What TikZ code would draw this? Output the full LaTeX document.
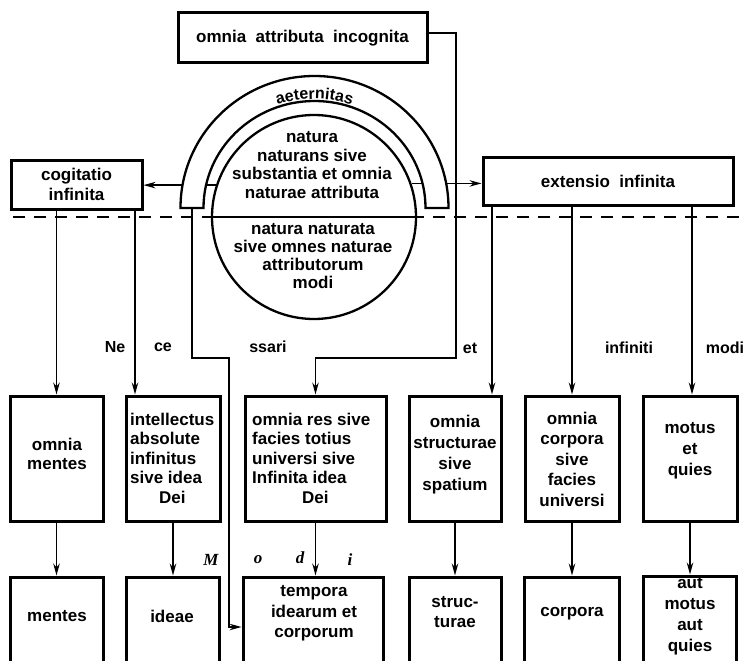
\documentclass[tikz,border=0pt]{standalone}
\usepackage{fontspec}
\setmainfont{Liberation Sans}
\newfontfamily\serifbi{Liberation Serif}
\usetikzlibrary{arrows.meta,decorations.text}
\begin{document}
\begin{tikzpicture}[x=1pt,y=-1pt,
  fs/.style={font=\bfseries\fontsize{17}{#1}\selectfont, inner sep=0pt, align=center},
  fs/.default=19.5,
  box/.style={draw, line width=3pt, inner sep=0pt},
  arr/.style={-{Stealth[length=12pt,width=6.5pt]}, line width=1.5pt},
  thinarr/.style={-{Stealth[length=12pt,width=6.5pt]}, line width=1.2pt},
  lbl/.style={font=\bfseries\fontsize{16}{16}\selectfont, inner sep=0pt},
  modl/.style={font=\serifbi\bfseries\itshape\fontsize{17}{17}\selectfont, inner sep=0pt},
]
\useasboundingbox (0,0) rectangle (745,661);
\clip (0,0) rectangle (745,661);

% dashed separation line
\coordinate (dashL) at (13,217);
\coordinate (dashR) at (745,217);
\draw[line width=1.5pt, dash pattern=on 12pt off 9pt] (dashL) -- (dashR);

% top box
\node[box, fs, minimum width=249pt, minimum height=50pt] (top) at (302.5,38) {omnia\ \ attributa\ \ incognita};

% side boxes
\node[box, fs, minimum width=131pt, minimum height=49pt] (cog) at (76.5,184.5) {cogitatio\\infinita};
\node[box, fs, minimum width=250pt, minimum height=48pt] (ext) at (608,181) {extensio\ \ infinita};

% circle natura
\node[circle, draw, line width=2.3pt, minimum size=204pt, inner sep=0pt] (nat) at (314,217) {};
\draw[line width=1.8pt] (nat.west) -- (nat.east);
\node[fs=18.7] (nat1) at (312,165) {natura\\naturans sive\\substantia et omnia\\naturae attributa};
\node[fs=18.2] (nat2) at (313,256) {natura naturata\\sive omnes naturae\\attributorum\\modi};

% arrows from circle to side boxes
\draw[arr] (nat.162.3) -- (nat.162.3 -| cog.east);
\draw[arr] (nat.19.5) -- (nat.19.5 -| ext.west);

% arch aeternitas
\filldraw[fill=white, line width=2.3pt] (180.5,208) arc[start angle=180,end angle=360,x radius=134,y radius=132]
  -- (425.5,208) arc[start angle=360,end angle=180,x radius=111,y radius=107] -- cycle;
\path[decorate, decoration={text along path, text align=center,
  text={|\bfseries\fontsize{16}{16}\selectfont|aeternitas}}]
  (201.5,209) arc[start angle=180,end angle=360,x radius=113,y radius=110];

% row 1 boxes
\node[box, minimum width=93pt, minimum height=125pt] (b1) at (56.5,458.5) {};
\node[box, minimum width=94pt, minimum height=125pt] (b2) at (173,458.5) {};
\node[box, minimum width=141pt, minimum height=125pt] (b3) at (315.5,458.5) {};
\node[box, minimum width=92pt, minimum height=125pt] (b4) at (455,458.5) {};
\node[box, minimum width=94pt, minimum height=125pt] (b5) at (572,458.5) {};
\node[box, minimum width=94pt, minimum height=125pt] (b6) at (690,458.5) {};

\node[fs=19] (tb1) at (57,453.5) {omnia\\mentes};
\node[fs=19.5, align=left, anchor=west] (tb2) at (130,458) {intellectus\\absolute\\infinitus\\sive idea\\\hspace*{29pt}Dei};
\node[fs=19.5, align=left, anchor=west] (tb3) at (252,458) {omnia res sive\\facies totius\\universi sive\\Infinita idea\\\hspace*{50pt}Dei};
\node[fs=21] (tb4) at (455,454.5) {omnia\\structurae\\sive\\spatium};
\node[fs=20.5] (tb5) at (572,459) {omnia\\corpora\\sive\\facies\\universi};
\node[fs=21] (tb6) at (690,451) {motus\\et\\quies};

% row 2 boxes (open at the bottom edge)
\node[box, minimum width=93pt, minimum height=123pt] (c1) at (56.5,638.5) {};
\node[box, minimum width=93pt, minimum height=123pt] (c2) at (172.5,638.5) {};
\node[box, minimum width=140pt, minimum height=123pt] (c3) at (313,638.5) {};
\node[box, minimum width=92pt, minimum height=123pt] (c4) at (455,638.5) {};
\node[box, minimum width=95pt, minimum height=123pt] (c5) at (571.5,638.5) {};
\node[box, minimum width=93pt, minimum height=125pt] (c6) at (689.5,638.5) {};

\node[fs] (tc1) at (57,616) {mentes};
\node[fs] (tc2) at (172,616) {ideae};
\node[fs=20.5] (tc3) at (314,613.5) {tempora\\idearum et\\corporum};
\node[fs=20] (tc4) at (455,612) {struc-\\turae};
\node[fs] (tc5) at (572,614) {corpora};
\node[fs=21] (tc6) at (690,616.5) {aut\\motus\\aut\\quies};

% connectors from the side boxes
\draw[arr] (b1.north |- cog.south) -- (b1.north);
\draw[arr] ([xshift=-38pt]b2.north |- cog.south) -- ([xshift=-38pt]b2.north);
\draw[arr] ([xshift=37pt]b4.north |- ext.south) -- ([xshift=37pt]b4.north);
\draw[arr] (b5.north |- ext.south) -- (b5.north);
\draw[arr] ([xshift=2pt]b6.north |- ext.south) -- ([xshift=2pt]b6.north);

% row 1 -> row 2
\draw[arr] (b1.south) -- (b1.south |- c1.north);
\draw[arr] (b2.south) -- (b2.south |- c2.north);
\draw[arr] (b3.south) -- (b3.south |- c3.north);
\draw[arr] (b4.south) -- (b4.south |- c4.north);
\draw[arr] (b5.south) -- (b5.south |- c5.north);
\draw[arr] (b6.south) -- (b6.south |- c6.north);

% long connectors
\coordinate (kR) at (456,358);
\draw[thinarr] ([yshift=5pt]top.east) -| (kR) -| (b3.north);
\coordinate (footL) at (192,208);
\coordinate (kL1) at (192,358);
\coordinate (kL2) at (229,358);
\coordinate (kL3) at (229,627);
\draw[thinarr] (footL) -- (kL1) -- (kL2) -- (kL3) -- (kL3 -| c3.west);

% labels
\node[lbl] (l1) at (115,347) {Ne};
\node[lbl] (l2) at (163,347) {ce};
\node[lbl] (l3) at (268,347) {ssari};
\node[lbl] (l4) at (470,348) {et};
\node[lbl] (l5) at (629,348) {infiniti};
\node[lbl] (l6) at (725,348) {modi};

\node[modl] (m1) at (211,560) {M};
\node[modl] (m2) at (258,560) {o};
\node[modl] (m3) at (300,558) {d};
\node[modl] (m4) at (350,560) {i};
\end{tikzpicture}
\end{document}
